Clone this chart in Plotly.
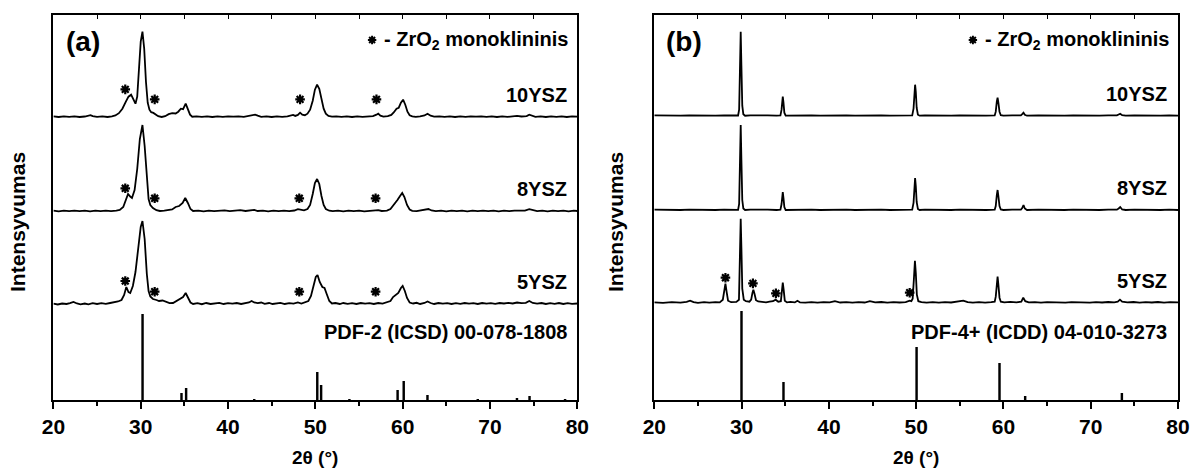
import plotly.graph_objects as go

# ---------------- data (2θ in degrees, intensity in arbitrary units) ----------------
A_10YSZ = [(20.0,0.3),(20.6,-0.3),(21.2,0.4),(21.8,-0.2),(22.4,0.3),(23.0,-0.3),(23.6,0.2),(24.0,0.8),(24.25,1.6),(24.5,0.6),(25.0,-0.2),(25.6,0.3),(26.2,-0.3),(26.7,0.4),(27.1,1.2),(27.5,3.5),(27.9,8),(28.3,15),(28.6,20),(28.9,22),(29.15,18),(29.4,13),(29.6,20),(29.8,45),(30.0,75),(30.2,85),(30.4,68),(30.6,35),(30.8,14),(31.0,7),(31.2,4.5),(31.45,3.8),(31.7,2),(32.0,0.5),(32.4,-0.3),(32.8,0.5),(33.2,2.5),(33.6,3.5),(34.0,3.2),(34.3,5),(34.6,8),(34.85,7.5),(35.15,13),(35.4,8),(35.65,2),(35.9,0),(36.4,0.4),(37.0,-0.2),(37.6,0.3),(38.2,-0.3),(38.8,0.3),(39.4,-0.2),(40.0,0.3),(40.6,0),(41.2,0.4),(41.8,-0.2),(42.4,0.5),(42.8,1.5),(43.1,2),(43.4,1),(43.8,-0.2),(44.4,0.3),(45.0,-0.3),(45.6,0.3),(46.2,-0.2),(46.8,0.4),(47.2,1),(47.45,1.8),(47.7,0.8),(48.0,1.8),(48.25,4),(48.5,2),(48.8,1.5),(49.1,3),(49.4,7),(49.7,16),(49.95,27),(50.2,32),(50.45,28),(50.7,17),(50.95,8),(51.2,3),(51.5,0.8),(51.9,0),(52.4,0.4),(53.0,-0.2),(53.6,0.3),(54.2,-0.3),(54.8,0.3),(55.4,-0.2),(56.0,0.3),(56.6,0.5),(57.0,2),(57.2,3),(57.45,1),(57.8,0),(58.3,0.5),(58.7,1.8),(59.0,4.5),(59.3,8),(59.55,9),(59.8,14),(60.05,17),(60.3,12),(60.55,5),(60.8,1.5),(61.1,0.3),(61.5,-0.2),(62.0,0.3),(62.5,1.2),(62.85,3),(63.2,1),(63.6,0),(64.2,0.4),(64.8,-0.2),(65.4,0.3),(66.0,-0.3),(66.6,0.3),(67.2,-0.2),(67.8,0.4),(68.4,0),(69.0,0.4),(69.6,-0.2),(70.2,0.3),(70.8,-0.3),(71.4,0.3),(72.0,-0.2),(72.6,0.4),(73.1,0.8),(73.6,0.2),(74.2,0.6),(74.5,2),(74.8,0.8),(75.2,-0.2),(75.8,0.3),(76.4,-0.3),(77.0,0.3),(77.6,-0.2),(78.2,0.3),(78.8,-0.3),(79.4,0.3),(80.0,0)]

A_8YSZ = [(20.0,0.3),(20.6,-0.3),(21.2,0.3),(21.8,-0.2),(22.4,0.4),(23.0,-0.2),(23.6,0.3),(24.2,-0.3),(24.8,0.3),(25.4,-0.2),(26.0,0.3),(26.6,-0.2),(27.2,0.4),(27.6,1),(28.0,4),(28.3,12),(28.55,17),(28.8,14.5),(29.0,13),(29.3,21),(29.6,42),(29.9,72),(30.2,86),(30.45,65),(30.7,30),(30.9,12),(31.1,6),(31.4,3),(31.8,0.8),(32.2,0),(32.7,0.3),(33.2,0.8),(33.6,1.5),(34.0,4),(34.4,5),(34.8,8),(35.1,13),(35.4,8),(35.7,2),(36.0,0),(36.6,0.3),(37.2,-0.3),(37.8,0.4),(38.4,-0.2),(39.0,0.3),(39.6,0.6),(40.2,-0.2),(40.8,0.4),(41.4,0.8),(42.0,0),(42.6,0.4),(43.0,1.2),(43.4,0),(44.0,0.3),(44.6,-0.3),(45.2,0.3),(45.8,-0.2),(46.4,0.3),(47.0,-0.2),(47.6,0.5),(48.0,1.8),(48.3,1),(48.7,0.6),(49.1,2),(49.4,6),(49.7,17),(49.95,28),(50.2,32),(50.45,27),(50.7,15),(50.95,6),(51.2,2),(51.6,0.3),(52.0,-0.2),(52.6,0.3),(53.2,-0.3),(53.8,0.3),(54.4,-0.2),(55.0,0.3),(55.6,-0.3),(56.2,0.3),(56.8,0.2),(57.2,0.8),(57.6,0),(58.2,0.4),(58.6,2),(59.0,6),(59.4,11),(59.7,15),(59.95,18),(60.2,14),(60.5,6),(60.8,1.5),(61.1,0.2),(61.6,-0.2),(62.2,0.5),(62.7,1.5),(62.95,2),(63.3,0.5),(63.8,-0.2),(64.4,0.3),(65.0,-0.3),(65.6,0.3),(66.2,-0.2),(66.8,0.3),(67.4,-0.3),(68.0,0.3),(68.6,-0.2),(69.2,0.3),(69.8,-0.2),(70.4,0.3),(71.0,-0.3),(71.6,0.3),(72.2,-0.2),(72.8,0.3),(73.4,0.2),(74.0,0.4),(74.5,1.8),(74.9,0.6),(75.4,-0.2),(76.0,0.3),(76.6,-0.3),(77.2,0.3),(77.8,-0.2),(78.4,0.3),(79.0,-0.3),(79.6,0.3),(80.0,0)]

A_5YSZ = [(20.0,0.3),(20.5,-0.5),(21.0,0.5),(21.5,0),(21.9,0.8),(22.3,2),(22.7,0.5),(23.1,-0.3),(23.6,0.5),(24.0,-0.3),(24.5,0.8),(25.0,0),(25.5,0.8),(26.0,0.2),(26.5,1),(27.0,1.5),(27.4,2.5),(27.8,4),(28.1,9),(28.35,17),(28.6,12),(28.8,11),(29.1,18),(29.4,32),(29.7,55),(30.0,77),(30.2,83),(30.45,65),(30.7,30),(30.9,13),(31.1,7.5),(31.4,5),(31.8,4),(32.1,3),(32.5,3.5),(32.9,2.5),(33.3,0.8),(33.7,1),(34.1,3),(34.5,5),(34.85,7),(35.15,11),(35.45,6),(35.7,1.5),(36.0,0),(36.5,0.8),(37.0,-0.2),(37.5,1),(38.0,0),(38.5,0.8),(39.0,1.2),(39.5,0),(40.0,0.8),(40.5,0.3),(41.0,1),(41.5,0),(42.0,1),(42.4,1.5),(42.7,3),(43.0,1.5),(43.4,0.8),(43.8,1.5),(44.2,0.2),(44.7,1),(45.1,0),(45.6,0.8),(46.0,1.2),(46.5,0),(47.0,0.8),(47.5,0.3),(48.0,1.5),(48.4,0.5),(48.8,1.5),(49.2,3),(49.5,8),(49.8,19),(50.05,27),(50.25,29),(50.5,22),(50.8,17),(51.05,16),(51.3,10),(51.6,3),(51.9,0.5),(52.3,1),(52.8,0),(53.2,1),(53.7,0.2),(54.2,0.8),(54.7,0),(55.2,1),(55.7,0.3),(56.2,0.8),(56.7,0),(57.2,1),(57.7,0.3),(58.2,1.5),(58.6,3),(58.9,7),(59.2,9),(59.5,11),(59.8,16),(60.0,18),(60.25,13),(60.5,6),(60.8,1.5),(61.2,0.5),(61.6,1.2),(62.0,0),(62.5,1),(62.85,2.5),(63.2,1),(63.6,0),(64.1,1),(64.6,0.3),(65.1,0.8),(65.6,0),(66.1,0.8),(66.6,0.2),(67.1,1),(67.6,0.3),(68.1,0.8),(68.6,0),(69.1,1),(69.6,0.3),(70.1,0.8),(70.6,0.2),(71.1,1),(71.6,0.5),(72.1,1.2),(72.6,0.5),(73.1,1.5),(73.6,0.8),(74.1,1.2),(74.5,3),(74.9,1),(75.4,0.3),(75.9,1),(76.4,0),(76.9,0.8),(77.4,0.2),(77.9,1),(78.4,0),(78.9,0.8),(79.4,0.2),(80.0,0.5)]

B_10YSZ = [(20.0,0.3),(21.0,0),(22.0,0.3),(23.0,0),(24.0,0.3),(25.0,0),(26.0,0.3),(27.0,0),(28.0,0.3),(29.0,0),(29.6,0.2),(29.72,6),(29.82,45),(29.9,84),(29.98,50),(30.08,10),(30.2,1.5),(30.4,0),(31.0,0.4),(32.0,0),(33.0,0.3),(34.0,0),(34.45,0.3),(34.58,6),(34.66,15),(34.72,19),(34.8,13),(34.9,3),(35.05,0),(36.0,0.3),(37.0,0),(38.0,0.3),(39.0,0),(40.0,0.3),(41.0,0),(42.0,0.3),(43.0,0),(44.0,0.3),(45.0,0),(46.0,0.3),(47.0,0),(48.0,0.3),(49.0,0),(49.55,0.3),(49.7,7),(49.8,24),(49.88,31),(49.96,24),(50.06,8),(50.2,1),(50.4,0),(51.0,0.3),(52.0,0),(53.0,0.3),(54.0,0),(55.0,0.3),(56.0,0),(57.0,0.3),(58.0,0),(59.0,0.3),(59.12,4),(59.24,14),(59.33,18),(59.42,13),(59.55,4),(59.7,0.5),(60.0,0),(61.0,0.3),(62.0,0.3),(62.15,1.5),(62.3,3),(62.45,1),(62.7,0),(64.0,0.3),(65.0,0),(66.0,0.3),(67.0,0),(68.0,0.3),(69.0,0),(70.0,0.3),(71.0,0),(72.0,0.3),(73.0,0.3),(73.2,1.2),(73.38,2),(73.6,0.5),(74.0,0),(75.0,0.3),(76.0,0),(77.0,0.3),(78.0,0),(79.0,0.3),(80.0,0)]

B_8YSZ = [(20.0,0.3),(21.0,0),(22.0,0.3),(23.0,0),(24.0,0.3),(25.0,0),(26.0,0.3),(27.0,0),(28.0,0.3),(29.0,0),(29.6,0.2),(29.72,6),(29.82,46),(29.9,85),(29.98,50),(30.08,10),(30.2,1.5),(30.4,0),(31.0,0.4),(32.0,0),(33.0,0.3),(34.0,0),(34.45,0.3),(34.58,6),(34.66,14),(34.72,18),(34.8,12),(34.9,3),(35.05,0),(36.0,0.3),(37.0,0),(38.0,0.3),(39.0,0),(40.0,0.3),(41.0,0),(42.0,0.3),(43.0,0),(44.0,0.3),(45.0,0),(46.0,0.3),(47.0,0),(48.0,0.3),(49.0,0),(49.55,0.3),(49.7,7),(49.8,25),(49.88,32),(49.96,24),(50.06,8),(50.2,1),(50.4,0),(51.0,0.3),(52.0,0),(53.0,0.3),(54.0,0),(55.0,0.3),(56.0,0),(57.0,0.3),(58.0,0),(59.0,0.3),(59.12,4),(59.24,15),(59.33,20),(59.42,14),(59.55,4),(59.7,0.5),(60.0,0),(61.0,0.3),(62.0,0.3),(62.15,2),(62.3,5),(62.45,1.5),(62.7,0),(64.0,0.3),(65.0,0),(66.0,0.3),(67.0,0),(68.0,0.3),(69.0,0),(70.0,0.3),(71.0,0),(72.0,0.3),(73.0,0.3),(73.2,1.5),(73.38,3),(73.6,0.5),(74.0,0),(75.0,0.3),(76.0,0),(77.0,0.3),(78.0,0),(79.0,0.3),(80.0,0)]

B_5YSZ = [(20.0,0.3),(21.0,-0.2),(22.0,0.5),(23.0,0),(23.7,0.8),(24.1,2),(24.5,0.5),(25.0,-0.2),(25.7,0.6),(26.3,0),(27.0,0.6),(27.5,0.3),(27.85,3),(28.0,10),(28.15,19),(28.3,10),(28.45,2),(28.8,0.5),(29.4,0.8),(29.7,3),(29.82,40),(29.9,84),(29.98,55),(30.08,14),(30.25,3),(30.5,1.5),(30.9,1),(31.1,3),(31.25,10),(31.35,13),(31.48,9),(31.65,2.5),(31.9,1.2),(32.3,0.8),(32.8,0.3),(33.2,1),(33.6,1.5),(33.9,3),(34.2,1),(34.5,1.5),(34.62,10),(34.72,20),(34.82,13),(34.95,2),(35.2,0.3),(35.6,0.8),(36.1,0.3),(36.4,2),(36.7,0.3),(37.3,0),(38.0,0.5),(38.7,0),(39.4,0.5),(40.1,0.3),(40.7,1.5),(41.3,0.2),(42.0,0.6),(42.7,0),(43.4,0.6),(44.1,0.2),(44.7,1.5),(45.3,0.3),(46.0,0.7),(46.7,0),(47.4,0.6),(48.1,0.2),(48.8,0.6),(49.1,1.5),(49.26,2),(49.45,1.5),(49.6,4),(49.75,25),(49.86,42),(49.96,30),(50.08,8),(50.25,1.5),(50.6,0.5),(51.2,0),(51.9,0.6),(52.6,0),(53.3,0.5),(54.0,0.2),(54.7,0.8),(55.4,2),(55.9,0.5),(56.5,0),(57.2,0.5),(57.9,0),(58.6,0.5),(59.0,1),(59.12,6),(59.24,20),(59.33,26),(59.42,18),(59.55,5),(59.7,1),(60.1,0.3),(60.8,0.8),(61.5,0.3),(62.05,1),(62.27,5),(62.5,1.5),(62.9,0.3),(63.6,0.6),(64.3,0),(65.0,0.5),(65.7,0.2),(66.4,0.6),(67.1,0),(67.8,0.5),(68.5,0.2),(69.2,0.6),(69.9,0),(70.6,0.5),(71.3,0.2),(72.0,0.7),(72.7,0.3),(73.1,1),(73.35,3),(73.6,1),(74.2,0.3),(74.9,0.7),(75.6,0),(76.3,0.5),(77.0,0.2),(77.7,0.7),(78.4,0),(79.1,0.5),(80.0,0.3)]

# reference patterns (stick positions and relative heights)
REF_A_POS = [30.21, 34.67, 35.2, 43.0, 50.22, 50.66, 53.9, 59.42, 60.12, 62.84, 68.6, 73.09, 74.53, 78.6]
REF_A_INT = [86, 7, 12, 1, 28, 15, 0.7, 10, 19, 5, 0.7, 1.5, 4, 0.7]
REF_B_POS = [29.99, 34.8, 50.05, 59.55, 62.49, 73.57]
REF_B_INT = [89, 18, 53, 37, 4, 7]

# monoclinic ZrO2 markers (2θ, height above the pattern baseline)
STAR_A_10 = [(28.23, 27.3), (31.6, 17.3), (48.25, 17.3), (57.0, 17.3)]
STAR_A_8 = [(28.23, 22.7), (31.6, 12.7), (48.16, 12.7), (56.9, 12.7)]
STAR_A_5 = [(28.23, 23.0), (31.6, 12.3), (48.16, 12.3), (56.9, 12.3)]
STAR_B_5 = [(28.15, 25.0), (31.3, 19.3), (33.93, 9.3), (49.26, 10.0)]

SAMPLES = ["10YSZ", "8YSZ", "5YSZ"]
REF_LABELS = ["PDF-2 (ICSD) 00-078-1808", "PDF-4+ (ICDD) 04-010-3273"]

# vertical stacking offsets (layout)
OFF_A = {"10YSZ": 283.3, "8YSZ": 189.0, "5YSZ": 96.0}
OFF_B = {"10YSZ": 284.3, "8YSZ": 190.0, "5YSZ": 97.3}

FONT = "Arial, Liberation Sans, sans-serif"
W, H = 1196, 469

fig = go.Figure()

def add_curve(pairs, off, xa, ya):
    fig.add_trace(go.Scatter(x=[p[0] for p in pairs], y=[off + p[1] for p in pairs],
                             mode="lines", line=dict(color="black", width=1.8),
                             xaxis=xa, yaxis=ya, showlegend=False, hoverinfo="skip"))

def add_stars(pairs, off, xa, ya):
    fig.add_trace(go.Scatter(x=[p[0] for p in pairs], y=[off + p[1] for p in pairs],
                             mode="markers",
                             marker=dict(symbol="asterisk", size=8, color="black",
                                         line=dict(color="black", width=2.2)),
                             xaxis=xa, yaxis=ya, showlegend=False, hoverinfo="skip"))

add_curve(A_10YSZ, OFF_A["10YSZ"], "x", "y")
add_curve(A_8YSZ, OFF_A["8YSZ"], "x", "y")
add_curve(A_5YSZ, OFF_A["5YSZ"], "x", "y")
add_curve(B_10YSZ, OFF_B["10YSZ"], "x2", "y2")
add_curve(B_8YSZ, OFF_B["8YSZ"], "x2", "y2")
add_curve(B_5YSZ, OFF_B["5YSZ"], "x2", "y2")

fig.add_trace(go.Bar(x=REF_A_POS, y=REF_A_INT, width=0.28, marker=dict(color="black", line=dict(width=0)),
                     xaxis="x", yaxis="y", showlegend=False, hoverinfo="skip"))
fig.add_trace(go.Bar(x=REF_B_POS, y=REF_B_INT, width=0.28, marker=dict(color="black", line=dict(width=0)),
                     xaxis="x2", yaxis="y2", showlegend=False, hoverinfo="skip"))

add_stars(STAR_A_10, OFF_A["10YSZ"], "x", "y")
add_stars(STAR_A_8, OFF_A["8YSZ"], "x", "y")
add_stars(STAR_A_5, OFF_A["5YSZ"], "x", "y")
add_stars(STAR_B_5, OFF_B["5YSZ"], "x2", "y2")

# key star symbols (the text key in the original)
for xa, ya in [("x3", "y"), ("x4", "y2")]:
    fig.add_trace(go.Scatter(x=[56.5], y=[360], mode="markers",
                             marker=dict(symbol="asterisk", size=7, color="black",
                                         line=dict(color="black", width=2)),
                             xaxis=xa, yaxis=ya, showlegend=False, hoverinfo="skip"))

dom_a = [53.4 / W, 577.3 / W]
dom_b = [654.3 / W, 1178.0 / W]
dom_y = [1 - 400 / H, 1 - 15 / H]

def xaxis_bottom(dom, anchor):
    return dict(domain=dom, anchor=anchor, range=[20, 80], tickmode="linear", tick0=20, dtick=10,
                ticks="outside", ticklen=7, tickwidth=1.5, tickcolor="black",
                minor=dict(ticks="outside", ticklen=4, tickwidth=1.5, dtick=5, tick0=20, tickcolor="black"),
                showline=True, linecolor="black", linewidth=1.8, mirror=True,
                showgrid=False, zeroline=False, automargin=False,
                tickfont=dict(family=FONT, size=21, color="black", weight="bold"))

def xaxis_top(dom, overlay, anchor):
    return dict(domain=dom, overlaying=overlay, anchor=anchor, side="top", range=[20, 80],
                tickmode="linear", tick0=20, dtick=5, ticks="inside", ticklen=4, tickwidth=1.3,
                tickcolor="black", showticklabels=False, showline=False, showgrid=False,
                zeroline=False, automargin=False)

def yaxis(dom, anchor):
    return dict(domain=dom, anchor=anchor, range=[0, 385], showticklabels=False, ticks="",
                showline=True, linecolor="black", linewidth=1.8, mirror=True,
                showgrid=False, zeroline=False, automargin=False)

fig.update_layout(
    width=W, height=H, margin=dict(l=0, r=0, t=0, b=0, pad=0, autoexpand=False),
    autosize=False, showlegend=False,
    paper_bgcolor="white", plot_bgcolor="white", barmode="overlay",
    xaxis=xaxis_bottom(dom_a, "y"), xaxis2=xaxis_bottom(dom_b, "y2"),
    xaxis3=xaxis_top(dom_a, "x", "y"), xaxis4=xaxis_top(dom_b, "x2", "y2"),
    yaxis=yaxis(dom_y, "x"), yaxis2=yaxis(dom_y, "x2"),
    font=dict(family=FONT, color="black"),
)

lab_font = dict(family=FONT, size=20, color="black", weight="bold")
ann = []
for xr, yr, letter, offs, ref_lab in [("x", "y", "(a)", OFF_A, REF_LABELS[0]),
                                     ("x2", "y2", "(b)", OFF_B, REF_LABELS[1])]:
    ann.append(dict(x=23.4, y=359, xref=xr, yref=yr, xanchor="center", yanchor="middle",
                    text=letter, showarrow=False,
                    font=dict(family=FONT, size=28, color="black", weight="bold")))
    ann.append(dict(x=79.2, y=360, xref=xr, yref=yr, xanchor="right", yanchor="middle",
                    text="- ZrO<sub>2</sub> monoklininis", showarrow=False, font=lab_font))
    for s in SAMPLES:
        ann.append(dict(x=79.0, y=offs[s] + 22, xref=xr, yref=yr, xanchor="right", yanchor="middle",
                        text=s, showarrow=False, font=lab_font))
    ann.append(dict(x=79.0, y=68, xref=xr, yref=yr, xanchor="right", yanchor="middle", text=ref_lab,
                    showarrow=False, font=lab_font))

for xc in [315.4 / W, 916.2 / W]:
    ann.append(dict(x=xc, y=1 - 457 / H, xref="paper", yref="paper", xanchor="center", yanchor="middle",
                    text="2θ (°)", showarrow=False,
                    font=dict(family=FONT, size=19, color="black", weight="bold")))
for xc in [18 / W, 616 / W]:
    ann.append(dict(x=xc, y=1 - 222 / H, xref="paper", yref="paper", xanchor="center", yanchor="middle",
                    text="Intensyvumas", textangle=-90, showarrow=False,
                    font=dict(family=FONT, size=21, color="black", weight="bold")))

fig.update_layout(annotations=ann)
fig.write_html("out.html")
